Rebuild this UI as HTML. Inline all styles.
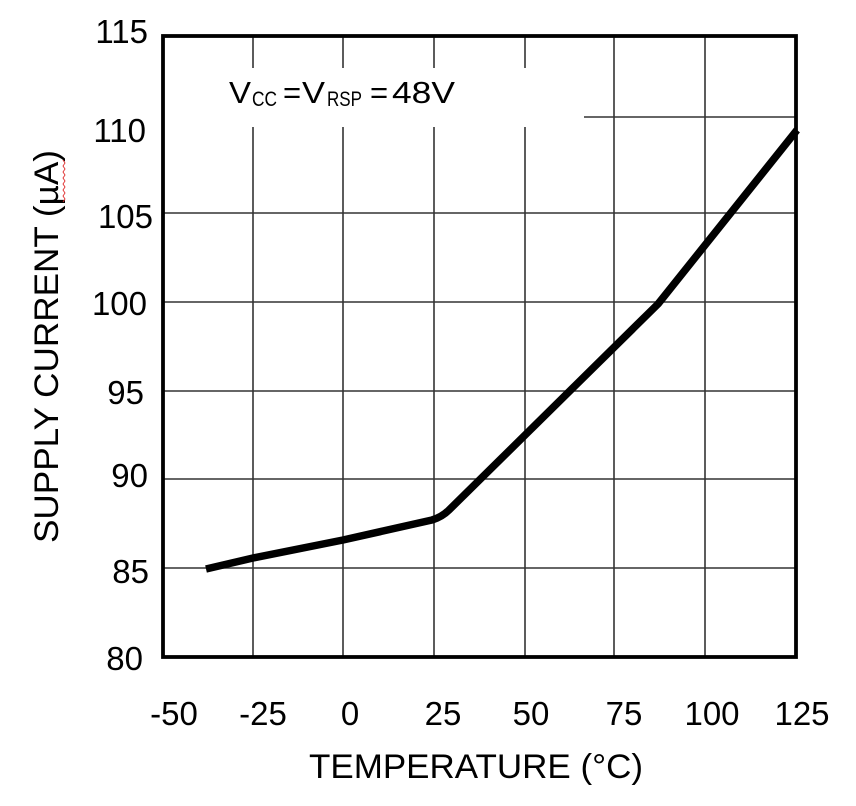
<!DOCTYPE html>
<html>
<head>
<meta charset="utf-8">
<style>
  html, body { margin: 0; padding: 0; background: #ffffff; }
  svg { display: block; }
  text { font-family: "Liberation Sans", Arial, sans-serif; fill: #000; }
</style>
</head>
<body>
<svg width="856" height="806" viewBox="0 0 856 806" xmlns="http://www.w3.org/2000/svg">
  <rect x="0" y="0" width="856" height="806" fill="#ffffff"/>

  <!-- gridlines -->
  <g stroke="#333" stroke-width="1.6" fill="none">
    <line x1="163" y1="568" x2="796" y2="568"/>
    <line x1="163" y1="479" x2="796" y2="479"/>
    <line x1="163" y1="391" x2="796" y2="391"/>
    <line x1="163" y1="302" x2="796" y2="302"/>
    <line x1="163" y1="213" x2="796" y2="213"/>
    <line x1="584" y1="117" x2="796" y2="117"/>
    <line x1="253" y1="36" x2="253" y2="657"/>
    <line x1="343" y1="36" x2="343" y2="657"/>
    <line x1="434" y1="36" x2="434" y2="657"/>
    <line x1="525" y1="36" x2="525" y2="657"/>
    <line x1="614" y1="36" x2="614" y2="657"/>
    <line x1="705" y1="36" x2="705" y2="657"/>
  </g>

  <!-- white annotation box covering gridlines -->
  <rect x="166" y="68" width="418" height="59" fill="#ffffff"/>

  <!-- plot border -->
  <rect x="163" y="36" width="633" height="621" fill="none" stroke="#000" stroke-width="3.8"/>

  <!-- data curve -->
  <path d="M206,569 L253,558 L343,540 L432,520 Q442,517 449,510 L658,304 L797,130"
        fill="none" stroke="#000" stroke-width="7.5" stroke-linejoin="round" stroke-linecap="butt"/>

  <!-- annotation -->
  <text x="229" y="103" font-size="31" textLength="22" lengthAdjust="spacingAndGlyphs">V</text>
  <text x="252" y="106" font-size="21" textLength="25" lengthAdjust="spacingAndGlyphs">CC</text>
  <text x="283" y="103" font-size="31">=</text>
  <text x="302" y="103" font-size="31" textLength="23" lengthAdjust="spacingAndGlyphs">V</text>
  <text x="327" y="106" font-size="21" textLength="35" lengthAdjust="spacingAndGlyphs">RSP</text>
  <text x="370" y="103" font-size="31">=</text>
  <text x="392" y="103" font-size="31" textLength="63" lengthAdjust="spacingAndGlyphs">48V</text>

  <!-- y tick labels -->
  <g font-size="33" text-anchor="end">
    <text x="148" y="43">115</text>
    <text x="146" y="142">110</text>
    <text x="153" y="228">105</text>
    <text x="147" y="315">100</text>
    <text x="144" y="404">95</text>
    <text x="148" y="487">90</text>
    <text x="149" y="583">85</text>
    <text x="143" y="670">80</text>
  </g>

  <!-- x tick labels -->
  <g font-size="33" text-anchor="middle">
    <text x="174" y="725">-50</text>
    <text x="263" y="725">-25</text>
    <text x="350" y="725">0</text>
    <text x="443" y="725">25</text>
    <text x="531" y="725">50</text>
    <text x="624" y="725">75</text>
    <text x="712" y="725">100</text>
    <text x="802" y="725">125</text>
  </g>

  <!-- axis titles -->
  <text x="309" y="778" font-size="34" textLength="334" lengthAdjust="spacingAndGlyphs">TEMPERATURE  (°C)</text>
  <text transform="translate(58,346.5) rotate(-90)" x="0" y="0" font-size="34" text-anchor="middle" textLength="393" lengthAdjust="spacingAndGlyphs">SUPPLY CURRENT  (µA)</text>

  <!-- spell-check squiggle -->
  <polyline points="63,160 65,163 63,166 65,169 63,172 65,175 63,178 65,181 63,184 65,187 63,190 65,193 63,196 65,199 63,202"
            fill="none" stroke="#e03030" stroke-width="0.9"/>
</svg>
</body>
</html>
